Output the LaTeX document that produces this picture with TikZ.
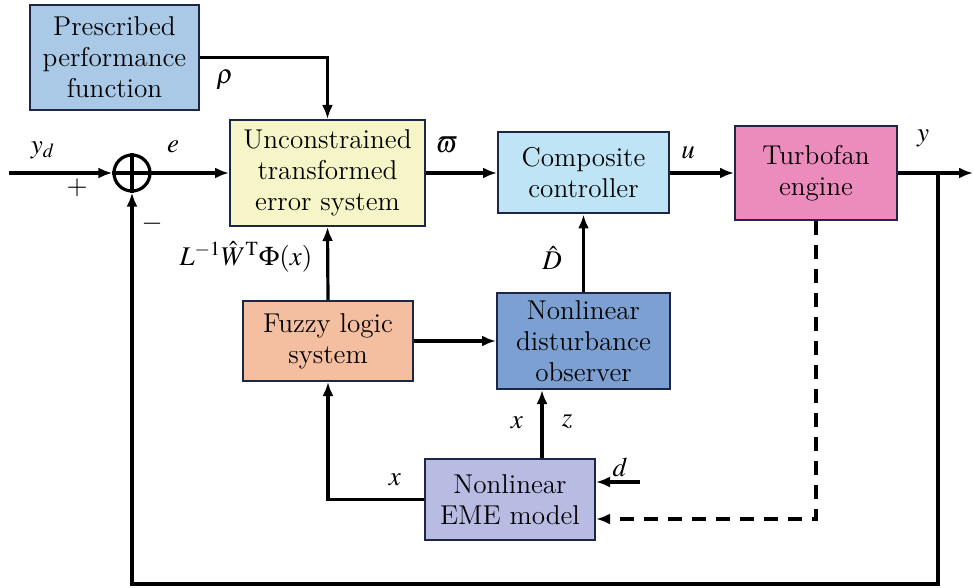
\documentclass[tikz,border=0pt]{standalone}
\usepackage{mathptmx}
\renewcommand{\rmdefault}{lmr}
\usetikzlibrary{arrows.meta}

\definecolor{frame}{RGB}{30,38,72}
\definecolor{ppfcol}{RGB}{169,201,231}
\definecolor{utecol}{RGB}{245,245,200}
\definecolor{cccol}{RGB}{190,228,245}
\definecolor{tecol}{RGB}{236,140,188}
\definecolor{flscol}{RGB}{244,190,160}
\definecolor{ndocol}{RGB}{125,160,210}
\definecolor{emecol}{RGB}{184,188,226}

\tikzset{
  block/.style={draw=frame, line width=1pt, align=center, inner sep=0pt,
    font=\rmfamily\fontsize{13.6}{15.5}\selectfont},
  sig/.style={line width=1.6pt, -{Latex[length=7pt,width=5.5pt]}},
  lbl/.style={font=\fontsize{13.5}{15.5}\selectfont}
}

\begin{document}
\begin{tikzpicture}[x=0.5pt,y=-0.5pt]
    \useasboundingbox (0,0) rectangle (974,588);
    % blocks
    \node[block, fill=ppfcol, minimum width=84.5pt, minimum height=52.5pt] (ppf) at (114.5,57.5) {Prescribed\\performance\\function};
    \node[block, fill=utecol, minimum width=97.5pt, minimum height=53pt] (ute) at (327.5,173) {Unconstrained\\transformed\\error system};
    \node[block, fill=cccol, minimum width=85.5pt, minimum height=40.5pt] (cc) at (583.5,173) {Composite\\controller};
    \node[block, fill=tecol, minimum width=81pt, minimum height=47pt] (te) at (816,173) {Turbofan\\engine};
    \node[block, fill=flscol, minimum width=85pt, minimum height=40pt] (fls) at (328,341) {Fuzzy logic\\system};
    \node[block, fill=ndocol, minimum width=86.5pt, minimum height=48pt] (ndo) at (583.5,341) {Nonlinear\\disturbance\\observer};
    \node[block, fill=emecol, minimum width=85pt, minimum height=40.5pt] (eme) at (510,499.5) {Nonlinear\\EME model};
    % summing junction
    \node[circle, draw, line width=1.6pt, minimum size=18pt, inner sep=0pt] (sum) at (132,173) {};
    \draw[line width=1.6pt] (sum.north) -- (sum.south) (sum.west) -- (sum.east);

    \coordinate (in) at (9,173);
    \coordinate (out) at (973,173);
    \coordinate (br) at (938,173);
    \coordinate (fb) at (938,584);
    \coordinate (din) at (640,482);
    \coordinate (dm) at (816,519);

    % forward path
    \draw[sig] (in) -- (sum.west);
    \draw[sig] (sum.east) -- (ute.west);
    \draw[sig] (ute.east) -- (cc.west);
    \draw[sig] (cc.east) -- (te.west);
    \draw[sig] (te.east) -- (out);
    \draw[sig] (br) -- (fb) -| (sum.south);
    \draw[sig] (ppf.east) -| (ute.north);
    % estimation loop
    \draw[sig] (fls.north) -- (ute.south);
    \draw[sig] (fls.east) -- (ndo.west);
    \draw[sig] (ndo.north) -- (cc.south);
    \draw[sig] ([xshift=16pt]eme.north) -- ([xshift=16pt]eme.north |- ndo.south);
    \draw[sig] (eme.west) -| (fls.south);
    \draw[sig] (din) -- (din -| eme.east);
    \draw[sig, dash pattern=on 7pt off 5pt] (te.south) -- (dm) -- (dm -| eme.east);

    % signal labels
    \node[lbl] (rho) at (225,80) {$\rho$};
    \node[lbl] (yd) at (43,150) {$y_d$};
    \node[lbl] (plus) at (77,188) {$+$};
    \node[lbl] (minus) at (152,224) {$-$};
    \node[lbl] (e) at (173,147) {$e$};
    \node[lbl] (varpi) at (447,145) {$\varpi$};
    \node[lbl] (u) at (688,153) {$u$};
    \node[lbl] (y) at (923,138) {$y$};
    \node[lbl] (fz) at (246,257) {$L^{-1}\hat{W}^{\mathrm{T}}\Phi(x)$};
    \node[lbl] (Dh) at (552,258) {$\hat{D}$};
    \node[lbl] (x1) at (517,423) {$x$};
    \node[lbl] (z) at (567,422) {$z$};
    \node[lbl] (x2) at (395,480) {$x$};
    \node[lbl] (d) at (620,467) {$d$};
\end{tikzpicture}
\end{document}
